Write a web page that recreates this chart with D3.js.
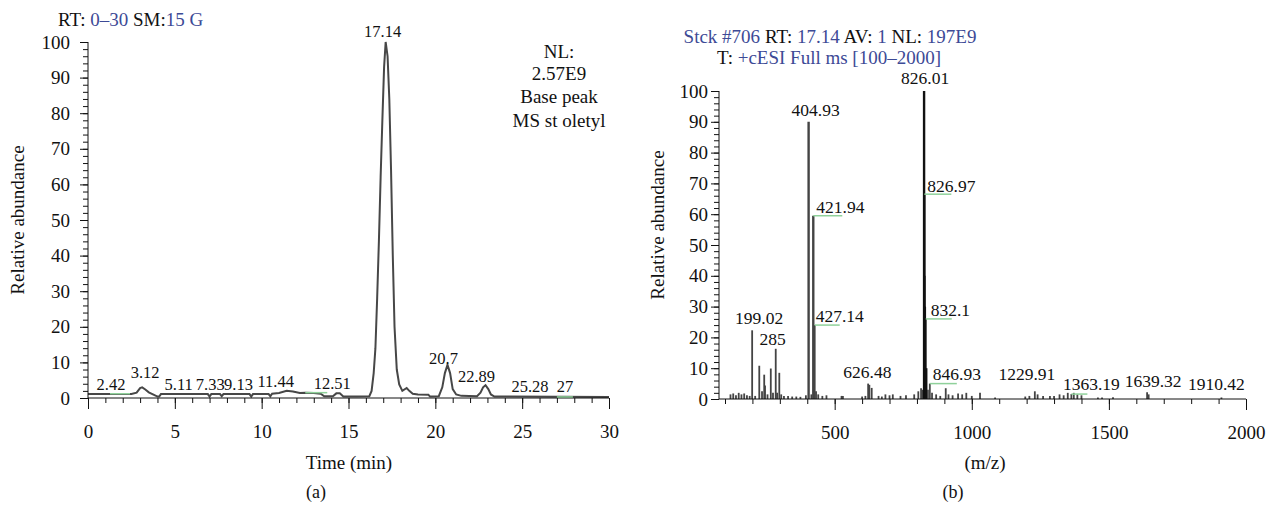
<!DOCTYPE html>
<html>
<head>
<meta charset="utf-8">
<script src="https://cdn.jsdelivr.net/npm/d3@7"></script>
<style>
  body { margin: 0; background: #fff; }
  svg text { font-family: "Liberation Serif", "DejaVu Serif", serif; fill: #111; }
</style>
</head>
<body>
<svg id="chart" width="1273" height="512"></svg>
<script>
// ---- (a) chromatogram, time (min) vs relative abundance ----
const rtTime = [0, 0.5, 1, 1.5, 2, 2.5, 2.8, 3.0, 3.12, 3.3, 3.5, 3.8, 4.0, 4.1, 4.2, 5, 6, 6.9, 7.0, 7.1,
  7.6, 7.7, 7.8, 9.3, 9.4, 9.5, 10.4, 10.5, 10.6, 11.0, 11.44, 11.8, 12.2, 12.51, 13.0, 13.4, 13.6, 14.1,
  14.3, 14.5, 14.7, 15.5, 16.2, 16.33, 16.45, 16.55, 16.65, 16.75, 16.85, 16.95, 17.05, 17.14, 17.25,
  17.35, 17.45, 17.55, 17.65, 17.78, 17.92, 18.1, 18.35, 18.5, 18.7, 19.0, 19.6, 19.7, 20.2, 20.4, 20.55,
  20.7, 20.85, 21.0, 21.2, 21.5, 22.4, 22.6, 22.75, 22.89, 23.05, 23.2, 23.4, 30];
const rtAbund = [1.1, 1.1, 1.1, 1.1, 1.1, 1.1, 1.5, 2.8, 3.0, 2.4, 1.6, 0.9, 0.4, 0.4, 1.1, 1.1, 1.1, 1.1, 0.4, 1.1,
  1.1, 0.5, 1.1, 1.1, 0.4, 1.1, 1.1, 0.5, 1.2, 1.4, 2.0, 1.8, 1.4, 1.5, 1.4, 1.2, 0.5, 0.5,
  1.3, 1.3, 0.4, 0.4, 0.5, 2, 7, 14, 28, 44, 62, 78, 93, 100, 96,
  84, 64, 40, 20, 8, 3.8, 2, 2.8, 2, 1.2, 1.0, 0.9, 0.4, 0.5, 3, 7,
  9.3, 7, 2.5, 1.0, 0.6, 0.5, 1.5, 3, 3.6, 2.5, 1.0, 0.4, 0.3];
const rtLabels = ["2.42", "3.12", "5.11", "7.33", "9.13", "11.44", "12.51", "17.14", "20.7", "22.89", "25.28", "27"];
const rtLabelLevel = [1.2, 3.0, 1.1, 1.1, 1.1, 2.0, 1.5, 100, 9.3, 3.6, 0.3, 0.3];
const rtTicks = [0, 5, 10, 15, 20, 25, 30];
const abundTicks = [0, 10, 20, 30, 40, 50, 60, 70, 80, 90, 100];

// ---- (b) mass spectrum, m/z vs relative abundance ----
const msMz = [120, 130, 140, 150, 160, 170, 180, 190, 199.02, 210, 225, 235, 243, 246, 255, 267, 275, 285, 290, 298,
  305, 315, 330, 345, 360, 375, 395, 404.93, 415, 421.94, 427.14, 432, 440, 455, 470, 525, 530, 600, 612, 622,
  626.48, 635, 660, 672, 685, 700, 712, 740, 760, 790, 805, 815, 820, 826.01, 826.97, 828, 830, 832.1, 835, 840,
  846.93, 855, 870, 885, 905, 915, 930, 950, 965, 980, 1000, 1030, 1085, 1195, 1210, 1229.91, 1240, 1260, 1285,
  1300, 1320, 1335, 1350, 1363.19, 1372, 1385, 1400, 1460, 1475, 1515, 1639.32, 1645, 1910.42];
const msInt = [1.5, 1.8, 1.2, 2.0, 1.5, 1.8, 1.2, 1.0, 22.3, 1.0, 10.8, 2.5, 7.9, 4.4, 1.5, 9.9, 2.0, 16.3, 2.0, 8.5,
  1.5, 1.0, 1.0, 0.8, 0.8, 0.7, 1.2, 90, 1.5, 59.5, 24, 2.5, 1.5, 1.0, 1.2, 1.0, 1.0, 0.8, 1.0, 5.0,
  4.6, 3.6, 1.0, 0.8, 1.5, 1.2, 1.5, 1.0, 1.2, 1.5, 2.5, 3.5, 3.0, 100, 66.5, 40, 30, 26, 10, 3,
  5, 2, 1.5, 1.0, 3.5, 1.5, 1.2, 1.8, 1.5, 2.0, 1.0, 2.0, 0.5, 0.8, 1.0, 2.5, 1.5, 1.0, 1.0,
  1.0, 1.5, 1.2, 2.0, 1.6, 2.0, 1.5, 1.2, 0.5, 0.5, 0.6, 2.2, 1.5, 0.5];
const msLabels = ["199.02", "285", "404.93", "421.94", "427.14", "626.48", "826.01", "826.97", "832.1", "846.93",
  "1229.91", "1363.19", "1639.32", "1910.42"];
const mzTicks = [500, 1000, 1500, 2000];

// label layout: [dx, dy, anchor, leader length]
const rtLayout = [[-19, -4, "middle", -20], [3, -9, "middle", 0], [2, -4, "middle", 0], [-5, -4, "middle", 0],
  [-8, -4, "middle", 0], [-11, -4, "middle", 0], [27, -4, "middle", 22], [-3, -5, "middle", 0],
  [-4, -1, "middle", 0], [-9, -3, "middle", 0], [3, -5, "middle", 0], [8, -5, "middle", 16]];
const msLayout = [[7, -6, "middle", 0], [-3, -4, "middle", 0], [7, -6, "middle", 0], [3, -3, "start", 29],
  [1, -3, "start", 25], [-2, -7, "middle", 0], [1, -7, "middle", 0], [3, -2, "start", 27], [5, -3, "start", 26],
  [3, -4, "start", 27], [-8, -11, "middle", 0], [20, -4, "middle", 16], [6, -5, "middle", 0], [-5, -7, "middle", 0]];

const blue = "#3d4a96";
const green = "#8fd19a";
const svg = d3.select("#chart");

function header(x, y, parts, anchor) {
  const t = svg.append("text").attr("x", x).attr("y", y).attr("font-size", 19).attr("text-anchor", anchor);
  parts.forEach(p => t.append("tspan").text(p[0]).style("fill", p[1] ? blue : "#111"));
}

function yAxis(g, y, x0, pad) {
  g.append("g").attr("transform", `translate(${x0},0)`)
    .call(d3.axisLeft(y).tickValues(d3.range(0, 101, 2)).tickSize(5).tickFormat(""))
    .call(a => a.select(".domain").remove());
  g.append("g").attr("transform", `translate(${x0},0)`)
    .call(d3.axisLeft(y).tickValues(abundTicks).tickSize(8).tickPadding(pad))
    .call(a => a.select(".domain").remove())
    .call(a => a.selectAll("text").attr("font-size", 19).attr("font-family", "Liberation Serif").attr("fill", "#111"));
  g.append("line").attr("x1", x0).attr("x2", x0).attr("y1", y(0)).attr("y2", y(100)).attr("stroke", "#111");
  g.selectAll(".tick line").attr("stroke", "#111");
}

function xAxis(g, x, y0, minorStep, majors, x0) {
  const d = x.domain();
  g.append("g").attr("transform", `translate(0,${y0})`)
    .call(d3.axisBottom(x).tickValues(d3.range(d[0], d[1] + 0.001, minorStep)).tickSize(5).tickFormat(""))
    .call(a => a.select(".domain").remove());
  g.append("g").attr("transform", `translate(0,${y0})`)
    .call(d3.axisBottom(x).tickValues(majors).tickSize(11).tickPadding(16).tickFormat(d3.format("d")))
    .call(a => a.select(".domain").remove())
    .call(a => a.selectAll("text").attr("font-size", 19).attr("font-family", "Liberation Serif").attr("fill", "#111"));
  g.append("line").attr("x1", x0).attr("x2", x.range()[1]).attr("y1", y0).attr("y2", y0).attr("stroke", "#111");
  g.selectAll(".tick line").attr("stroke", "#111");
}

function peakLabels(g, texts, xs, levels, layout, x, y, size) {
  texts.forEach((t, i) => {
    const [dx, dy, anchor, lead] = layout[i];
    const px = x(xs[i]), py = y(levels[i]);
    if (lead) {
      g.append("line").attr("x1", px).attr("x2", px + lead).attr("y1", py).attr("y2", py)
        .attr("stroke", green).attr("stroke-width", 1.5);
    }
    g.append("text").attr("x", px + dx).attr("y", py + dy).attr("text-anchor", anchor)
      .attr("font-size", size).text(t);
  });
}

// ---------- panel (a) ----------
const xa = d3.scaleLinear().domain([0, 30]).range([88, 609]);
const ya = d3.scaleLinear().domain([0, 100]).range([398, 42]);
const ga = svg.append("g");

ga.append("path")
  .datum(rtTime.map((t, i) => [t, rtAbund[i]]))
  .attr("fill", "none").attr("stroke", "#474747").attr("stroke-width", 2)
  .attr("d", d3.line().x(d => xa(d[0])).y(d => ya(d[1])));

yAxis(ga, ya, 88, 10);
xAxis(ga, xa, 398, 1, rtTicks, 88);
peakLabels(ga, rtLabels, rtLabels.map(Number), rtLabelLevel, rtLayout, xa, ya, 16.5);

header(58, 26, [["RT: ", 0], ["0–30", 1], [" SM:", 0], ["15 G", 1]], "start");
["NL:", "2.57E9", "Base peak", "MS st oletyl"].forEach((s, i) => {
  svg.append("text").attr("x", 559).attr("y", [58, 80, 103, 127][i]).attr("text-anchor", "middle")
    .attr("font-size", 19).text(s);
});
svg.append("text").attr("transform", "translate(24,220) rotate(-90)").attr("text-anchor", "middle")
  .attr("font-size", 19).text("Relative abundance");
svg.append("text").attr("x", 349).attr("y", 469).attr("text-anchor", "middle").attr("font-size", 19).text("Time (min)");
svg.append("text").attr("x", 316).attr("y", 498).attr("text-anchor", "middle").attr("font-size", 18).text("(a)");

// ---------- panel (b) ----------
const xb = d3.scaleLinear().domain([100, 2000]).range([725, 1246]);
const yb = d3.scaleLinear().domain([0, 100]).range([399, 91]);
const gb = svg.append("g");

gb.selectAll(".stick")
  .data(msMz.map((m, i) => [m, msInt[i]]))
  .join("line")
  .attr("x1", d => xb(d[0])).attr("x2", d => xb(d[0]))
  .attr("y1", yb(0)).attr("y2", d => yb(d[1]))
  .attr("stroke", d => d[0] > 820 && d[0] < 840 ? "#111" : "#444")
  .attr("stroke-width", d => d[1] > 40 ? 2.4 : 1.8);

yAxis(gb, yb, 719, 3);
xAxis(gb, xb, 399, 100, mzTicks, 719);
peakLabels(gb, msLabels, msLabels.map(Number), msLabels.map(s => msInt[msMz.indexOf(+s)]), msLayout, xb, yb, 17.5);

header(830, 43, [["Stck #706", 1], [" RT: ", 0], ["17.14", 1], [" AV: ", 0], ["1", 1], [" NL: ", 0], ["197E9", 1]], "middle");
header(829, 64, [["T: ", 0], ["+cESI Full ms [100–2000]", 1]], "middle");
svg.append("text").attr("transform", "translate(664,225) rotate(-90)").attr("text-anchor", "middle")
  .attr("font-size", 19).text("Relative abundance");
svg.append("text").attr("x", 985).attr("y", 469).attr("text-anchor", "middle").attr("font-size", 19).text("(m/z)");
svg.append("text").attr("x", 953).attr("y", 498).attr("text-anchor", "middle").attr("font-size", 18).text("(b)");
</script>
</body>
</html>
